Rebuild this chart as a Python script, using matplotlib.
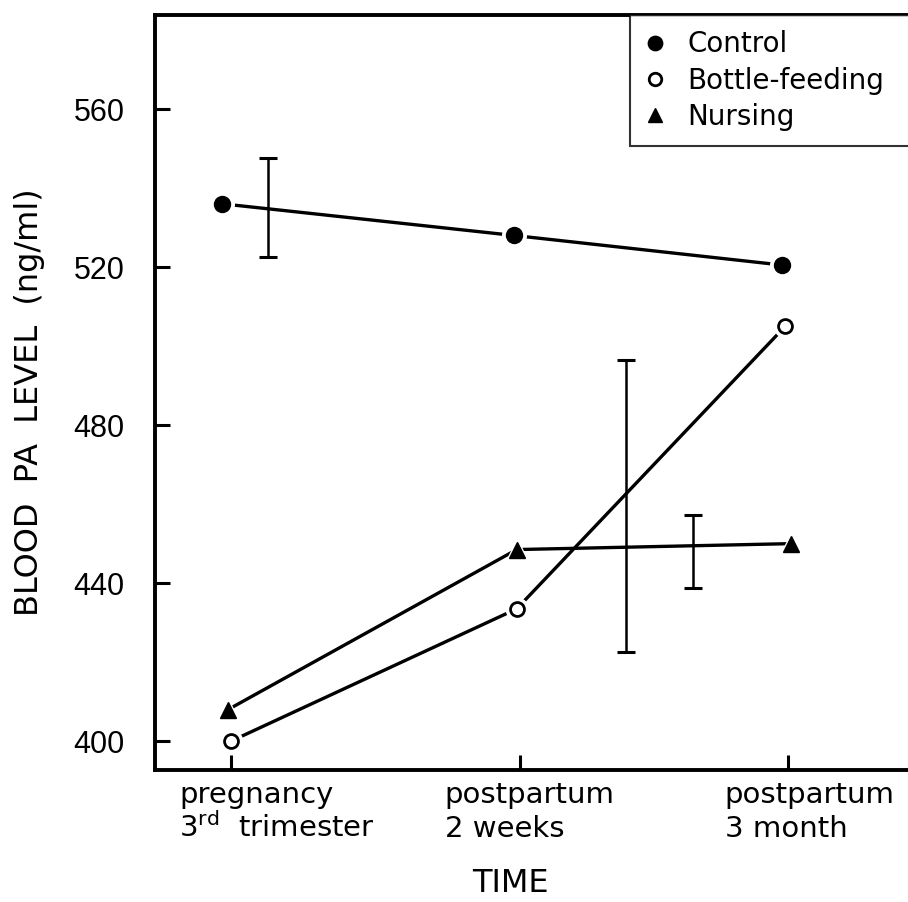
import numpy as np
import matplotlib.pyplot as plt
from matplotlib.transforms import blended_transform_factory

plt.rcParams['font.family'] = ['DejaVu Sans']

# time positions (pregnancy, 2 weeks, 3 months)
tick_pos = [0.0, 1.0, 1.93]
tick_lines = [("pregnancy", "3$^{\\rm rd}$  trimester"),
              ("postpartum", "2 weeks"),
              ("postpartum", "3 month")]
tick_text_x = [-0.18, -0.26, -0.22]

control_x = [-0.03, 0.98, 1.91]
control_y = [536, 528, 520.5]
bottle_x = [0.0, 0.99, 1.92]
bottle_y = [400, 433.5, 505]
nursing_x = [-0.01, 0.99, 1.94]
nursing_y = [408, 448.5, 450]

# error bars drawn beside the points
err_x = [0.13, 1.37, 1.60]
err_mid = [535, 459.5, 448]
err_half = [12.5, 37, 9.2]

fig = plt.figure(figsize=(9.08, 9.02), dpi=100)
ax = fig.add_axes([0.1707, 0.1463, 0.84, 0.8371])

lw = 2.4
for xs, ys in [(control_x, control_y), (bottle_x, bottle_y), (nursing_x, nursing_y)]:
    ax.plot(xs, ys, color='black', lw=lw, zorder=2, solid_capstyle='butt')

ax.errorbar(err_x, err_mid, yerr=err_half, fmt='none', ecolor='black',
            elinewidth=1.8, capsize=6.5, capthick=2.2, zorder=1)

# white halo so the lines stop short of the markers
ax.plot(control_x, control_y, 'o', ms=17, color='white', zorder=3)
ax.plot(bottle_x, bottle_y, 'o', ms=16, color='white', zorder=3)
ax.plot(nursing_x, nursing_y, '^', ms=16, color='white', zorder=3)

h1, = ax.plot(control_x, control_y, 'o', ms=11.5, color='black', zorder=4)
h2, = ax.plot(bottle_x, bottle_y, 'o', ms=10, mfc='white', mec='black', mew=2, zorder=4)
h3, = ax.plot(nursing_x, nursing_y, '^', ms=11, color='black', zorder=4)

ax.set_xlim(-0.263, 2.379)
ax.set_ylim(392.7, 583.8)

ax.set_yticks([400, 440, 480, 520, 560])
ax.set_xticks(tick_pos)
ax.set_xticklabels([])
ax.tick_params(axis='both', direction='in', length=11, width=2.2)
ax.tick_params(axis='y', labelsize=22, pad=22, labelfontfamily='Liberation Sans')

for s in ['left', 'bottom', 'top']:
    ax.spines[s].set_linewidth(2.8)
ax.spines['right'].set_visible(False)

trans = blended_transform_factory(ax.transData, fig.transFigure)
for tx, (l1, l2) in zip(np.array(tick_pos) + np.array(tick_text_x), tick_lines):
    ax.text(tx, 1 - 803 / 902, l1, transform=trans, fontsize=21, ha='left', va='baseline')
    ax.text(tx, 1 - 837 / 902, l2, transform=trans, fontsize=21, ha='left', va='baseline')

fig.text(0.562, 1 - 884 / 902, 'TIME', fontsize=23, ha='center', va='center')
fig.text(0.033, 1 - 402 / 902, 'BLOOD  PA  LEVEL  (ng/ml)', fontsize=23,
         rotation=90, ha='center', va='center')

leg = ax.legend([h1, h2, h3], ['Control', 'Bottle-feeding', 'Nursing'],
                loc='upper left', bbox_to_anchor=(0.623, 0.0, 0.5, 1.0), mode='expand',
                borderaxespad=0, fontsize=20, frameon=True, fancybox=False,
                handlelength=0.7, handletextpad=0.8, labelspacing=0.3, borderpad=0.55,
                markerscale=0.9)
leg.get_frame().set_edgecolor('black')
leg.get_frame().set_linewidth(1.5)

fig.savefig('out.png', dpi=100)
